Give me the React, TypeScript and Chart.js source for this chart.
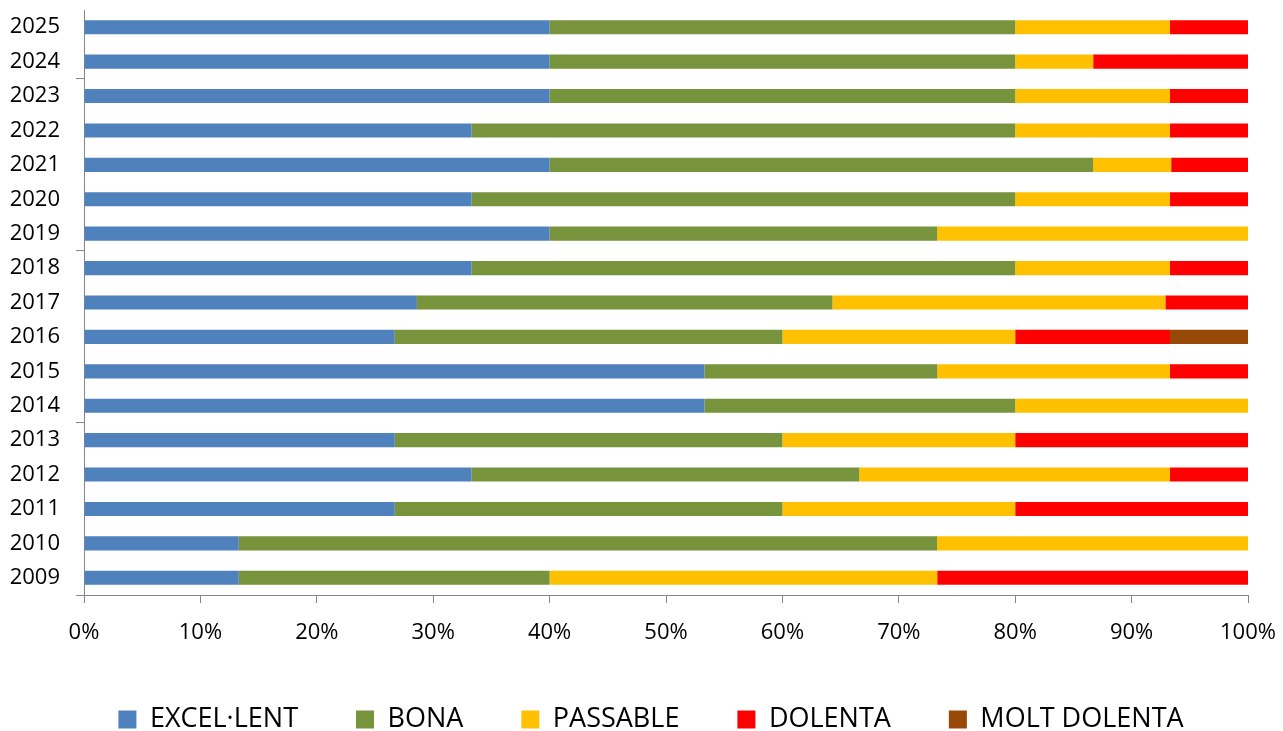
import React, { useEffect, useRef } from 'react';
import { Chart, registerables } from 'chart.js';

Chart.register(...registerables);

const years = ['2009', '2010', '2011', '2012', '2013', '2014', '2015', '2016', '2017', '2018', '2019', '2020', '2021', '2022', '2023', '2024', '2025'];

const excellent = [13.3, 13.3, 26.7, 33.3, 26.7, 53.3, 53.3, 26.7, 28.6, 33.3, 40, 33.3, 40, 33.3, 40, 40, 40];
const bona = [26.7, 60, 33.3, 33.3, 33.3, 26.7, 20, 33.3, 35.7, 46.7, 33.3, 46.7, 46.7, 46.7, 40, 40, 40];
const passable = [33.3, 26.7, 20, 26.7, 20, 20, 20, 20, 28.6, 13.3, 26.7, 13.3, 6.7, 13.3, 13.3, 6.7, 13.3];
const dolenta = [26.7, 0, 20, 6.7, 20, 0, 6.7, 13.3, 7.1, 6.7, 0, 6.7, 6.6, 6.7, 6.7, 13.3, 6.7];
const moltDolenta = [0, 0, 0, 0, 0, 0, 0, 6.7, 0, 0, 0, 0, 0, 0, 0, 0, 0];

const seriesNames = ['EXCEL·LENT', 'BONA', 'PASSABLE', 'DOLENTA', 'MOLT DOLENTA'];
const seriesColors = ['#4F81BD', '#77933C', '#FFC000', '#FF0000', '#984807'];
const seriesValues = [excellent, bona, passable, dolenta, moltDolenta];

const FONT = "'Open Sans', sans-serif";
const AXIS_COLOR = '#868686';

const legendShift = {
  id: 'legendShift',
  afterLayout(chart: any) {
    if (chart.legend) {
      chart.legend.left = 54;
    }
  },
};

const noAutoPad = (scale: any) => {
  scale.paddingTop = 0;
  scale.paddingBottom = 0;
  scale.paddingLeft = 0;
  scale.paddingRight = 0;
};

export default function App() {
  const ref = useRef<HTMLCanvasElement | null>(null);

  useEffect(() => {
    if (!ref.current) return;
    const chart = new Chart(ref.current, {
      type: 'bar',
      data: {
        labels: years,
        datasets: seriesNames.map((name, i) => ({
          label: name,
          data: seriesValues[i],
          backgroundColor: seriesColors[i],
          borderWidth: 0,
          barPercentage: 0.41,
          categoryPercentage: 1,
        })),
      },
      plugins: [legendShift],
      options: {
        indexAxis: 'y',
        responsive: true,
        maintainAspectRatio: false,
        animation: false,
        layout: { padding: { left: 4, right: 35, top: 10, bottom: 0 } },
        plugins: {
          tooltip: { enabled: false },
          legend: {
            position: 'bottom',
            labels: {
              font: { family: FONT, size: 27 },
              color: '#000',
              boxWidth: 18,
              boxHeight: 18,
              padding: 58,
            },
          },
        },
        scales: {
          x: {
            stacked: true,
            min: 0,
            max: 100,
            ticks: {
              stepSize: 10,
              callback: (v: any) => v + '%',
              font: { family: FONT, size: 22 },
              color: '#000',
              padding: 17,
              maxRotation: 0,
            },
            grid: {
              drawOnChartArea: false,
              drawTicks: true,
              tickLength: 8,
              color: AXIS_COLOR,
            },
            border: { display: true, color: AXIS_COLOR, width: 1 },
            afterFit: (scale: any) => {
              scale.height = 53;
              noAutoPad(scale);
            },
          },
          y: {
            stacked: true,
            reverse: true,
            ticks: {
              font: { family: FONT, size: 22 },
              color: '#000',
              padding: 16,
            },
            grid: {
              offset: true,
              drawOnChartArea: false,
              drawTicks: true,
              tickLength: 8,
              color: (ctx: any) => (typeof ctx.index === 'number' && ctx.index % 5 === 0 ? AXIS_COLOR : 'rgba(0,0,0,0)'),
            },
            border: { display: true, color: AXIS_COLOR, width: 1 },
            afterFit: (scale: any) => {
              scale.width = 80;
              noAutoPad(scale);
            },
          },
        },
      },
    });
    return () => chart.destroy();
  }, []);

  return (
    <div style={{ position: 'fixed', left: 0, top: 0, width: 1283, height: 731, overflow: 'hidden', background: '#fff' }}>
      <div style={{ position: 'relative', width: 1283, height: 743 }}>
        <canvas ref={ref} />
      </div>
    </div>
  );
}
